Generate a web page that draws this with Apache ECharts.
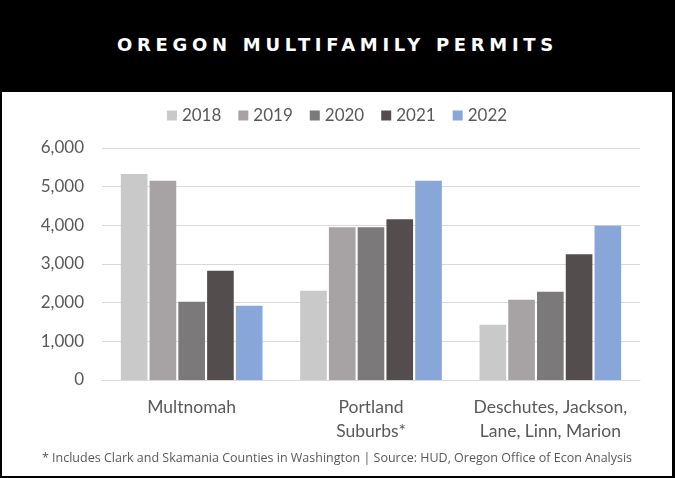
<!DOCTYPE html>
<html>
<head>
<meta charset="utf-8">
<script src="https://cdn.jsdelivr.net/npm/echarts@6/dist/echarts.min.js"></script>
<style>
  html, body { margin: 0; padding: 0; background: #000; width: 675px; height: 478px; overflow: hidden; }
  #head { position: absolute; left: 0; top: 0; width: 675px; height: 92px; line-height: 90px;
          text-align: center; color: #fff; font-family: "DejaVu Sans"; font-weight: bold;
          font-size: 18px; letter-spacing: 4.7px; }
  #chart { position: absolute; left: 2px; top: 92px; width: 670px; height: 384px; background: #fff; }
</style>
</head>
<body>
<div id="head">OREGON MULTIFAMILY PERMITS</div>
<div id="chart"></div>
<script>
var regions = ['Multnomah', 'Portland\nSuburbs*', 'Deschutes, Jackson,\nLane, Linn, Marion'];
var years = ['2018', '2019', '2020', '2021', '2022'];
var colors = ['#c9c9c9', '#a7a3a4', '#7b797a', '#534d4e', '#88a7d8'];

// permits by year, one value per region
var v2018 = [5330, 2310, 1430];
var v2019 = [5155, 3950, 2075];
var v2020 = [2025, 3950, 2280];
var v2021 = [2825, 4160, 3250];
var v2022 = [1920, 5155, 3990];
var allValues = [v2018, v2019, v2020, v2021, v2022];

var footnote = '* Includes Clark and Skamania Counties in Washington | Source: HUD, Oregon Office of Econ Analysis';

var txt = '#595959';
var series = [];
for (var i = 0; i < years.length; i++) {
    series.push({
        name: years[i],
        type: 'bar',
        data: allValues[i],
        barGap: '8%',
        barCategoryGap: '21%',
        itemStyle: { color: colors[i] }
    });
}

var chart = echarts.init(document.getElementById('chart'));
chart.setOption({
    animation: false,
    textStyle: { fontFamily: 'Lato' },
    legend: {
        top: 10,
        left: 'center',
        itemWidth: 10,
        itemHeight: 10,
        itemGap: 17,
        icon: 'rect',
        textStyle: { fontSize: 17, color: txt, fontFamily: 'Lato' },
        data: years
    },
    grid: { left: 100, right: 32, top: 56, bottom: 96 },
    xAxis: {
        type: 'category',
        data: regions,
        axisLine: { lineStyle: { color: '#d9d9d9' } },
        axisTick: { show: false },
        axisLabel: { interval: 0, fontSize: 17.5, color: txt, lineHeight: 24, margin: 15, fontFamily: 'Lato' }
    },
    yAxis: {
        type: 'value',
        min: 0,
        max: 6000,
        interval: 1000,
        axisLabel: {
            fontSize: 17, color: txt, margin: 18, fontFamily: 'Lato',
            formatter: function (v) { return v.toLocaleString('en-US'); }
        },
        splitLine: { lineStyle: { color: '#d9d9d9' } }
    },
    graphic: [{
        type: 'text',
        left: 'center',
        top: 360,
        style: { text: footnote, fontSize: 12.5, fill: txt, fontFamily: 'Open Sans' }
    }],
    series: series
});
</script>
</body>
</html>
